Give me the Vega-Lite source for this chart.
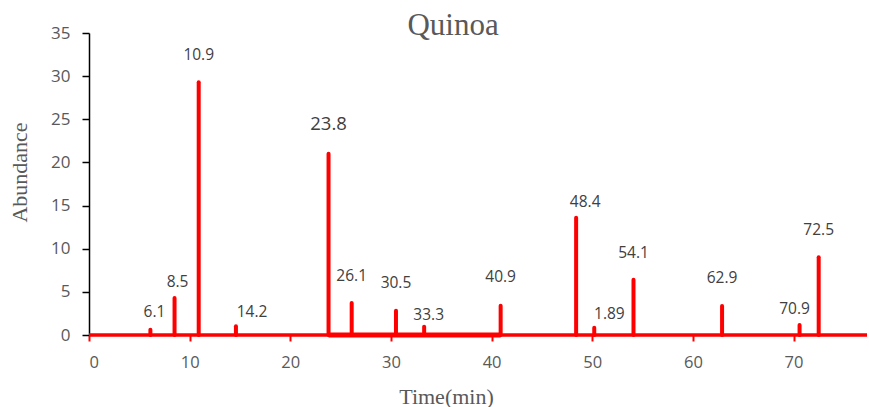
{
  "$schema": "https://vega.github.io/schema/vega-lite/v6.json",
  "width": 778,
  "height": 302,
  "autosize": {"type": "none"},
  "padding": {"left": 89, "top": 33, "right": 2, "bottom": 72},
  "background": "white",
  "config": {"view": {"stroke": null}},
  "title": {
    "text": "Quinoa",
    "font": "Liberation Serif",
    "fontSize": 31,
    "fontWeight": "normal",
    "color": "#595959",
    "anchor": "middle",
    "frame": "group",
    "dx": -25,
    "offset": -42,
    "baseline": "alphabetic"
  },
  "datasets": {
    "peaks": [
      {"time": 6.1, "abundance": 0.6, "label": "6.1", "label_x": 6.5, "label_y": 2.7},
      {"time": 8.5, "abundance": 4.3, "label": "8.5", "label_x": 8.8, "label_y": 6.2},
      {"time": 10.9, "abundance": 29.3, "label": "10.9", "label_x": 10.9, "label_y": 32.5},
      {"time": 14.6, "abundance": 1.0, "label": "14.2", "label_x": 16.2, "label_y": 2.7},
      {"time": 23.8, "abundance": 21.0, "label": "23.8", "label_x": 23.8, "label_y": 24.4},
      {"time": 26.1, "abundance": 3.7, "label": "26.1", "label_x": 26.1, "label_y": 6.8},
      {"time": 30.5, "abundance": 2.8, "label": "30.5", "label_x": 30.5, "label_y": 6.0},
      {"time": 33.3, "abundance": 0.95, "label": "33.3", "label_x": 33.75, "label_y": 2.3},
      {"time": 40.9, "abundance": 3.4, "label": "40.9", "label_x": 40.9, "label_y": 6.7},
      {"time": 48.4, "abundance": 13.6, "label": "48.4", "label_x": 49.3, "label_y": 15.4},
      {"time": 50.2, "abundance": 0.85, "label": "1.89", "label_x": 51.7, "label_y": 2.4},
      {"time": 54.1, "abundance": 6.4, "label": "54.1", "label_x": 54.1, "label_y": 9.5},
      {"time": 62.9, "abundance": 3.36, "label": "62.9", "label_x": 62.9, "label_y": 6.56},
      {"time": 70.6, "abundance": 1.15, "label": "70.9", "label_x": 70.1, "label_y": 2.97},
      {"time": 72.5, "abundance": 9.0, "label": "72.5", "label_x": 72.5, "label_y": 12.15}
    ],
    "baseline": [
      {"segment": "full", "start": 0, "end": 77.3, "level": 0},
      {"segment": "busy", "start": 23.8, "end": 40.9, "level": 0}
    ]
  },
  "layer": [
    {
      "data": {"name": "baseline"},
      "transform": [{"filter": "datum.segment === 'full'"}],
      "mark": {"type": "rule", "color": "#FF0000", "strokeWidth": 3.4},
      "encoding": {
        "x": {"field": "start", "type": "quantitative", "scale": {"domain": [0, 77.3], "nice": false}, "axis": {
          "values": [0, 10, 20, 30, 40, 50, 60, 70],
          "title": "Time(min)",
          "titleFont": "Liberation Serif",
          "titleFontSize": 22,
          "titleFontWeight": "normal",
          "titleColor": "#595959",
          "titleX": 357,
          "titleY": 68,
          "titleBaseline": "alphabetic",
          "titleAlign": "center",
          "domain": false,
          "grid": false,
          "ticks": true,
          "tickColor": "#FF0000",
          "tickWidth": 2,
          "tickSize": 6,
          "labelFont": "Open Sans",
          "labelFontSize": 16.5,
          "labelColor": "#595959",
          "labelPadding": 13
        }},
        "x2": {"field": "end"},
        "y": {"field": "level", "type": "quantitative", "scale": {"domain": [0, 35], "nice": false}, "axis": {
          "values": [0, 5, 10, 15, 20, 25, 30, 35],
          "title": "Abundance",
          "titleFont": "Liberation Serif",
          "titleFontSize": 22,
          "titleFontWeight": "normal",
          "titleColor": "#595959",
          "titleAngle": -90,
          "titleX": -63,
          "titleY": 139,
          "titleBaseline": "alphabetic",
          "titleAlign": "center",
          "domain": true,
          "domainColor": "#000000",
          "domainWidth": 1.5,
          "grid": false,
          "tickColor": "#000000",
          "tickWidth": 1.5,
          "tickSize": 7,
          "labelFont": "Open Sans",
          "labelFontSize": 17,
          "labelColor": "#595959",
          "labelPadding": 12
        }}
      }
    },
    {
      "data": {"name": "baseline"},
      "transform": [{"filter": "datum.segment === 'busy'"}],
      "mark": {"type": "rule", "color": "#FF0000", "strokeWidth": 4.8},
      "encoding": {
        "x": {"field": "start", "type": "quantitative"},
        "x2": {"field": "end"},
        "y": {"field": "level", "type": "quantitative"}
      }
    },
    {
      "data": {"name": "peaks"},
      "mark": {"type": "rule", "color": "#FF0000", "strokeWidth": 4, "strokeCap": "round"},
      "encoding": {
        "x": {"field": "time", "type": "quantitative"},
        "y": {"field": "abundance", "type": "quantitative"},
        "y2": {"datum": 0}
      }
    },
    {
      "data": {"name": "peaks"},
      "mark": {"type": "text", "font": "Open Sans", "color": "#404040", "align": "center", "baseline": "middle"},
      "encoding": {
        "x": {"field": "label_x", "type": "quantitative"},
        "y": {"field": "label_y", "type": "quantitative"},
        "text": {"field": "label"},
        "size": {"condition": {"test": "datum.label === '23.8'", "value": 18.5}, "value": 15.5}
      }
    }
  ]
}
